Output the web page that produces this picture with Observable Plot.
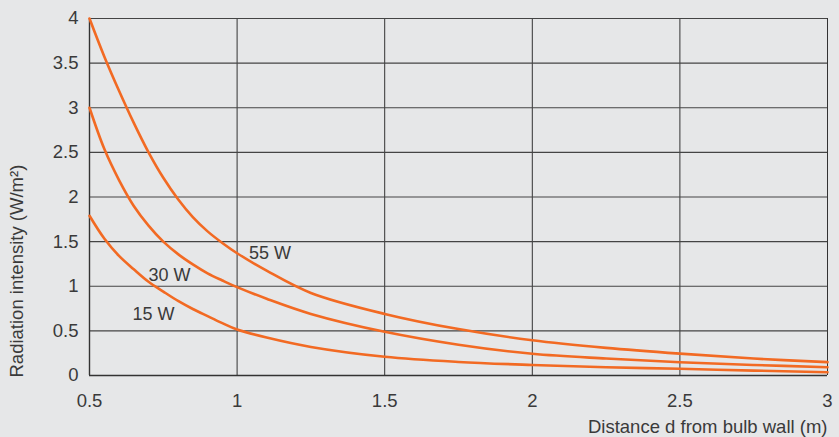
<!DOCTYPE html>
<html>
<head>
<meta charset="utf-8">
<script src="https://cdn.jsdelivr.net/npm/d3@7"></script>
<script src="https://cdn.jsdelivr.net/npm/@observablehq/plot@0.6"></script>
<style>
  html, body { margin: 0; padding: 0; background: #e6e7e8; }
</style>
</head>
<body>
<div id="chart"></div>
<script>
const distance = [0.5, 0.55, 0.6, 0.65, 0.7, 0.75, 0.8, 0.85, 0.9, 0.95, 1.0, 1.1, 1.25, 1.5, 1.75, 2.0, 2.25, 2.5, 2.75, 3.0];
const w55 = [4.0, 3.575, 3.19, 2.83, 2.5, 2.215, 1.975, 1.775, 1.615, 1.485, 1.37, 1.175, 0.925, 0.69, 0.52, 0.395, 0.31, 0.245, 0.19, 0.15];
const w30 = [3.0, 2.54, 2.19, 1.9, 1.68, 1.5, 1.36, 1.245, 1.145, 1.065, 0.99, 0.86, 0.69, 0.49, 0.345, 0.243, 0.19, 0.149, 0.118, 0.093];
const w15 = [1.79, 1.535, 1.34, 1.19, 1.05, 0.94, 0.835, 0.745, 0.665, 0.587, 0.515, 0.425, 0.32, 0.21, 0.152, 0.118, 0.093, 0.075, 0.055, 0.037];
const seriesNames = ["55 W", "30 W", "15 W"];
const labelX = [1.04, 0.70, 0.646];
const labelY = [1.375, 1.118, 0.69];
const xTicks = [0.5, 1, 1.5, 2, 2.5, 3];
const yTicks = [0, 0.5, 1, 1.5, 2, 2.5, 3, 3.5, 4];
const xLabel = "Distance d from bulb wall (m)";
const yLabel = "Radiation intensity (W/m²)";

const seriesValues = [w55, w30, w15];
const rows = [];
seriesValues.forEach((vals, i) => {
  vals.forEach((v, j) => rows.push({series: seriesNames[i], d: distance[j], v}));
});
const labels = seriesNames.map((s, i) => ({s, x: labelX[i], y: labelY[i]}));

const orange = "#f26a23";
const ink = "#3a3a3a";
const chart = Plot.plot({
  width: 839,
  height: 437,
  marginLeft: 89,
  marginRight: 12,
  marginTop: 18,
  marginBottom: 62,
  style: {background: "#e6e7e8", fontSize: "18.5px", fontFamily: "'Liberation Sans', Arial, sans-serif", color: ink},
  x: {domain: [0.5, 3], axis: null},
  y: {domain: [0, 4], axis: null},
  marks: [
    Plot.gridX(xTicks.slice(1), {stroke: "#333", strokeOpacity: 1, strokeWidth: 1}),
    Plot.gridY(yTicks.slice(1), {stroke: "#444", strokeOpacity: 1, strokeWidth: 1.1}),
    Plot.ruleY([0], {stroke: "#333", strokeWidth: 1.4}),
    Plot.ruleX([0.5], {stroke: "#333", strokeWidth: 1.4}),
    Plot.line(rows, {x: "d", y: "v", z: "series", stroke: orange, strokeWidth: 2.6, curve: "catmull-rom"}),
    Plot.text(labels, {x: "x", y: "y", text: "s", textAnchor: "start", fill: ink, fontSize: 18}),
    Plot.text(xTicks, {x: d => d, text: d => String(d), frameAnchor: "bottom", dy: 31, fontSize: 18.5, fill: ink}),
    Plot.text(yTicks, {y: d => d, text: d => String(d), frameAnchor: "left", textAnchor: "end", dx: -11, fontSize: 18.5, fill: ink}),
    Plot.text([xLabel], {frameAnchor: "bottom-right", textAnchor: "end", dy: 57, fontSize: 18.5, fill: ink}),
    Plot.text([yLabel], {frameAnchor: "bottom-left", textAnchor: "start", rotate: -90, dx: -67, dy: 2, fontSize: 18.5, fill: ink})
  ]
});
document.getElementById("chart").append(chart);
</script>
</body>
</html>
